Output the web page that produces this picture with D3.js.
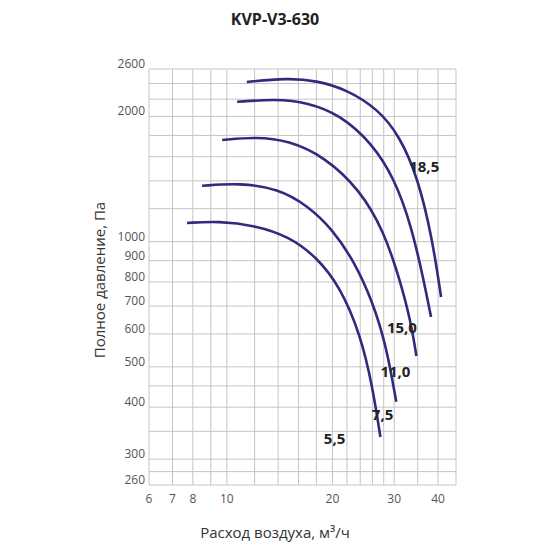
<!DOCTYPE html>
<html><head><meta charset="utf-8">
<script src="https://cdn.jsdelivr.net/npm/d3@7"></script>
<style>body{margin:0;background:#fff}text{font-family:"Open Sans",sans-serif}</style>
</head><body><svg id="c" width="550" height="550"></svg>
<script>
// motor power series (kW) and read-off points [flow, pressure]
const labels = ["5,5", "7,5", "11,0", "15,0", "18,5"];
const curve55 = [[7.7,1109],[9.5,1120],[12,1095],[15,1030],[18,920],[21,780],[24,600],[26,450],[27.4,339]];
const curve75 = [[8.5,1362],[10.9,1384],[14,1340],[17,1220],[20,1070],[23,900],[26,720],[28.5,560],[30.4,412]];
const curve110 = [[9.7,1755],[12.1,1786],[15,1750],[19,1600],[24,1330],[28,1060],[31,820],[33.5,640],[34.7,531]];
const curve150 = [[10.7,2168],[13.8,2202],[17,2160],[21,2020],[26,1720],[30,1420],[33.5,1100],[36.5,800],[38.2,659]];
const curve185 = [[11.4,2420],[14.8,2472],[18,2440],[22,2320],[27,2080],[31,1800],[35,1430],[38.5,1020],[40.8,736]];
const curves = [curve55, curve75, curve110, curve150, curve185];
const labelPos = [[18.9,327],[25.9,372],[27.4,473],[28.6,603],[33.1,1469]];

const xTicks = [6,7,8,10,20,30,40];
const xGrid = [6,7,8,9,10,12,14,16,18,20,22,24,26,28,30,35,40,45];
const yTicks = [260,300,400,500,600,700,800,900,1000,2000,2600];
const yGrid = [260,280,300,350,400,450,500,600,700,800,900,1000,1200,1400,1600,1800,2000,2200,2400,2600];

const svg = d3.select("#c");
const x = d3.scaleLog().domain([6,45]).range([149,456]);
const y = d3.scaleLog().domain([260,2600]).range([485,69]);

const g = svg.append("g");
g.selectAll(".vx").data(xGrid).join("line")
  .attr("x1", d => x(d)).attr("x2", d => x(d)).attr("y1", y(2600)).attr("y2", y(260))
  .attr("stroke", "#c4c4c4").attr("stroke-width", 1);
g.selectAll(".hy").data(yGrid).join("line")
  .attr("x1", x(6)).attr("x2", x(45)).attr("y1", d => y(d)).attr("y2", d => y(d))
  .attr("stroke", "#c4c4c4").attr("stroke-width", 1);

g.selectAll(".xt").data(xTicks).join("text")
  .attr("x", d => x(d)).attr("y", 503).attr("text-anchor", "middle")
  .attr("font-size", 12).attr("fill", "#555").text(d => d);
g.selectAll(".yt").data(yTicks).join("text")
  .attr("x", 145).attr("y", d => y(d) - 1).attr("text-anchor", "end")
  .attr("font-size", 12).attr("fill", "#555").text(d => d);

const line = d3.line().x(d => x(d[0])).y(d => y(d[1])).curve(d3.curveBasis);
g.selectAll(".curve").data(curves).join("path")
  .attr("d", line).attr("fill", "none").attr("stroke", "#2f2b7e").attr("stroke-width", 2.6);

g.selectAll(".lbl").data(labels).join("text")
  .attr("x", (d,i) => x(labelPos[i][0])).attr("y", (d,i) => y(labelPos[i][1]))
  .attr("font-size", 15).attr("font-weight", "bold").attr("fill", "#222").text(d => d);

svg.append("text").attr("x", 275).attr("y", 25).attr("text-anchor", "middle")
  .attr("font-size", 16).attr("font-weight", "bold").attr("fill", "#222").text("KVP-V3-630");
svg.append("text").attr("transform", "translate(105,280) rotate(-90)").attr("text-anchor", "middle")
  .attr("font-size", 15).attr("fill", "#333").text("Полное давление, Па");
svg.append("text").attr("x", 275).attr("y", 538).attr("text-anchor", "middle")
  .attr("font-size", 15).attr("fill", "#333").text("Расход воздуха, м³/ч");
</script></body></html>
